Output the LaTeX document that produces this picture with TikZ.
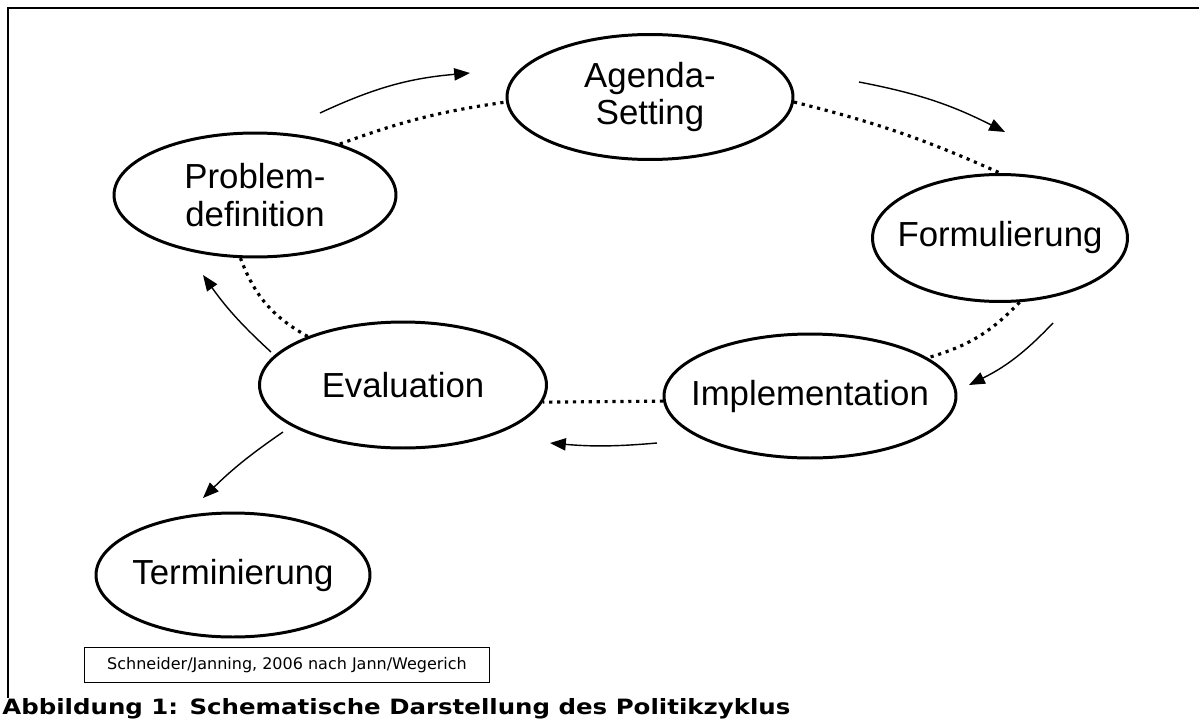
\documentclass[tikz,border=0pt]{standalone}
\usepackage{fontspec}
\setmainfont{Liberation Sans}
\newfontfamily\capfont{DejaVu Sans}
\newfontfamily\capwide[FakeStretch=1.16]{DejaVu Sans}
\usetikzlibrary{arrows.meta}
\usetikzlibrary{shapes.geometric}

\begin{document}
\begin{tikzpicture}[x=0.02cm, y=-0.02cm, >={Triangle[length=9pt,width=7pt]},
  phase/.style={ellipse, draw, line width=1.7pt, inner xsep=-2cm, inner ysep=0pt,
    align=center, font=\fontsize{19.8}{21.5}\selectfont},
  cycle/.style={line width=1.8pt, dash pattern=on 1.8pt off 2.7pt},
  flow/.style={->, line width=0.8pt}]
\useasboundingbox (0,0) rectangle (1199,720);
\draw[line width=1.1pt] (1199,8) -- (8,8) -- (8,698);

% the phases of the cycle
\node[phase, minimum width=5.64cm, minimum height=2.48cm] (prob)   at (255,195) {Problem-\\definition};
\node[phase, minimum width=5.72cm, minimum height=2.50cm] (agenda) at (650,97)  {Agenda-\\Setting};
\node[phase, minimum width=5.10cm, minimum height=2.54cm] (form)   at (1000,238) {Formulierung};
\node[phase, minimum width=5.84cm, minimum height=2.48cm] (impl)   at (810,396) {Implementation};
\node[phase, minimum width=5.74cm, minimum height=2.52cm] (eval)   at (403,385) {Evaluation};
\node[phase, minimum width=5.48cm, minimum height=2.48cm] (term)   at (233,575) {Terminierung};

% dotted ring
\draw[cycle] (prob.31) to[bend left=6] (agenda.182);
\draw[cycle] (agenda.-2) to[bend left=5] (form.north);
\draw[cycle] (form.-73) to[bend left=15] (impl.18);
\draw[cycle] (impl.182) -- (eval.-7);
\draw[cycle] (eval.153) to[bend left=20] (prob.-103);

% direction arrows
\coordinate (pa1) at (320,113);  \coordinate (pa2) at (470,73);
\coordinate (af1) at (859,82);   \coordinate (af2) at (1005,132);
\coordinate (fi1) at (1053,323); \coordinate (fi2) at (969,385);
\coordinate (ie1) at (657,443);  \coordinate (ie2) at (550,443);
\coordinate (ep1) at (271,352);  \coordinate (ep2) at (203,275);
\coordinate (et1) at (283,432);  \coordinate (et2) at (203,498);
\draw[flow] (pa1) to[bend left=10] (pa2);
\draw[flow] (af1) to[bend left=8] (af2);
\draw[flow] (fi1) to[bend left=10] (fi2);
\draw[flow] (ie1) to[bend left=5] (ie2);
\draw[flow] (ep1) to[bend left=6] (ep2);
\draw[flow] (et1) to[bend right=5] (et2);

% source and caption
\node[draw, line width=0.6pt, minimum width=8.1cm, minimum height=0.7cm,
  font=\capfont\fontsize{9.1}{11}\selectfont] (source) at (287,665)
  {Schneider/Janning, 2006 nach Jann/Wegerich};
\node[anchor=base west, inner sep=0pt, font=\capwide\bfseries\fontsize{12}{14}\selectfont]
  (caption) at (2,714) {Abbildung 1: Schematische Darstellung des Politikzyklus};
\end{tikzpicture}
\end{document}
